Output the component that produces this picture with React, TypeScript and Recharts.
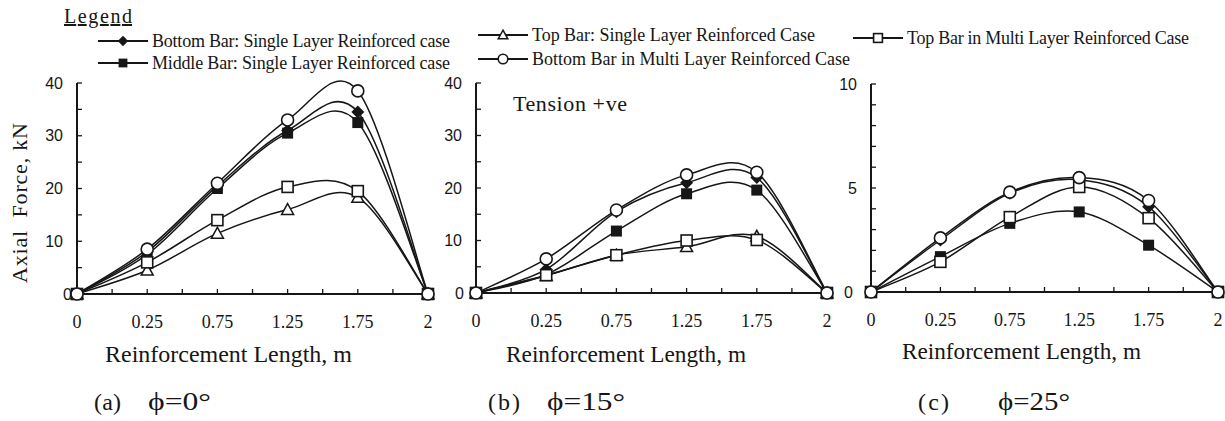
import React from 'react';
import { LineChart, Line, XAxis, YAxis } from 'recharts';

const INK = '#161616';
const SERIF = "'Liberation Serif', 'Times New Roman', serif";
const SANS = "'Liberation Sans', Arial, sans-serif";

// x positions are the measuring stations along the bar, drawn evenly spaced
const xLabels = ['0', '0.25', '0.75', '1.25', '1.75', '2'];

// (a) phi = 0
const aBottomSingle = [0, 8, 20.5, 31, 34.5, 0];
const aMiddleSingle = [0, 7.5, 20, 30.5, 32.5, 0];
const aTopSingle = [0, 4.5, 11.5, 16, 18.3, 0];
const aBottomMulti = [0, 8.5, 21, 33, 38.5, 0];
const aTopMulti = [0, 6, 14, 20.3, 19.5, 0];

// (b) phi = 15
const bBottomSingle = [0, 4.5, 15.5, 21, 22, 0];
const bMiddleSingle = [0, 3.5, 11.8, 18.9, 19.6, 0];
const bTopSingle = [0, 3.3, 7.2, 8.8, 10.8, 0];
const bBottomMulti = [0, 6.5, 15.8, 22.5, 23, 0];
const bTopMulti = [0, 3.4, 7.2, 10, 10.1, 0];

// (c) phi = 25
const cBottomSingle = [0, 2.5, 4.75, 5.4, 4.1, 0];
const cMiddleSingle = [0, 1.7, 3.3, 3.85, 2.25, 0];
const cBottomMulti = [0, 2.6, 4.8, 5.5, 4.4, 0];
const cTopMulti = [0, 1.45, 3.6, 5.05, 3.55, 0];

const SERIES = [
  { key: 'bottomSingle', name: 'Bottom Bar: Single Layer Reinforced case', shape: 'diamond' },
  { key: 'middleSingle', name: 'Middle Bar: Single Layer Reinforced case', shape: 'fsquare' },
  { key: 'topSingle', name: 'Top Bar: Single Layer Reinforced Case', shape: 'triangle' },
  { key: 'topMulti', name: 'Top Bar in Multi Layer Reinforced Case', shape: 'osquare' },
  { key: 'bottomMulti', name: 'Bottom Bar in Multi Layer Reinforced Case', shape: 'circle' },
];

// smooth line through every point (catmull-rom), like the original plotting software
function smoothCurve(context: any) {
  let xs: number[] = [];
  let ys: number[] = [];
  return {
    areaStart() {},
    areaEnd() {},
    lineStart() { xs = []; ys = []; },
    lineEnd() {
      const n = xs.length;
      if (!n) return;
      context.moveTo(xs[0], ys[0]);
      for (let i = 0; i < n - 1; i++) {
        const p = Math.max(i - 1, 0);
        const q = Math.min(i + 2, n - 1);
        context.bezierCurveTo(
          xs[i] + (xs[i + 1] - xs[p]) / 6, ys[i] + (ys[i + 1] - ys[p]) / 6,
          xs[i + 1] - (xs[q] - xs[i]) / 6, ys[i + 1] - (ys[q] - ys[i]) / 6,
          xs[i + 1], ys[i + 1],
        );
      }
    },
    point(x: number, y: number) { xs.push(+x); ys.push(+y); },
  };
}

function Marker({ cx, cy, shape, s = 1 }: any) {
  if (cx == null || cy == null) return null;
  if (shape === 'diamond') {
    const r = 6.5 * s;
    return <polygon points={`${cx},${cy - r} ${cx + r},${cy} ${cx},${cy + r} ${cx - r},${cy}`} fill={INK} />;
  }
  if (shape === 'fsquare') {
    const r = 5.5 * s;
    return <rect x={cx - r} y={cy - r} width={2 * r} height={2 * r} fill={INK} />;
  }
  if (shape === 'triangle') {
    const r = 6 * s;
    return <polygon points={`${cx},${cy - r} ${cx + r},${cy + r * 0.8} ${cx - r},${cy + r * 0.8}`} fill="#fff" stroke={INK} strokeWidth={1.5} />;
  }
  if (shape === 'osquare') {
    const r = 5.5 * s;
    return <rect x={cx - r} y={cy - r} width={2 * r} height={2 * r} fill="#fff" stroke={INK} strokeWidth={1.6} />;
  }
  return <circle cx={cx} cy={cy} r={6 * s} fill="#fff" stroke={INK} strokeWidth={1.6} />;
}

const Y_W = 60;
const X_H = 40;
const H = 421;

function Panel({ plotLeft, plotTop, plotW, plotH, yMax, yStep, yLabelStep, values, zeroGap }: any) {
  const data = xLabels.map((_, i) => {
    const row: any = { x: i };
    SERIES.forEach((s) => {
      if (values[s.key]) row[s.key] = values[s.key][i];
    });
    return row;
  });
  const yTicks: number[] = [];
  for (let v = 0; v <= yMax; v += yStep) yTicks.push(v);
  const xTicks: number[] = [];
  for (let v = 0; v <= 5; v += 0.5) xTicks.push(v);
  const axisY = plotTop + plotH;

  return (
    <div style={{ position: 'absolute', left: plotLeft - Y_W, top: 0 }}>
      <LineChart
        width={Y_W + plotW + 12}
        height={H}
        data={data}
        margin={{ top: plotTop, right: 12, bottom: H - plotTop - plotH - X_H, left: 0 }}
      >
        <XAxis
          type="number"
          dataKey="x"
          domain={[0, 5]}
          ticks={xTicks}
          interval={0}
          height={X_H}
          axisLine={{ stroke: INK, strokeWidth: 2 }}
          tickLine={{ stroke: INK, strokeWidth: 1.3 }}
          tickSize={-5}
          tick={(p: any) => {
            const v = p.payload.value;
            return (
              <text key={`xt${v}`} x={p.payload.coordinate} y={axisY + 34} textAnchor="middle" fontFamily={SERIF} fontSize={18} fill={INK}>
                {Number.isInteger(v) ? xLabels[v] : ''}
              </text>
            );
          }}
        />
        <YAxis
          type="number"
          domain={[0, yMax]}
          ticks={yTicks}
          interval={0}
          width={Y_W}
          axisLine={{ stroke: INK, strokeWidth: 2 }}
          tickLine={{ stroke: INK, strokeWidth: 1.3 }}
          tickSize={-5}
          tick={(p: any) => {
            const v = p.payload.value;
            const show = v % yLabelStep === 0;
            return (
              <text key={`yt${v}`} x={Y_W - (v === 0 ? zeroGap : 14)} y={p.payload.coordinate} dy="0.35em" textAnchor="end" fontFamily={SANS} fontSize={16} fill={INK}>
                {show ? String(v) : ''}
              </text>
            );
          }}
        />
        {SERIES.filter((s) => values[s.key]).map((s) => (
          <Line
            key={s.key}
            dataKey={s.key}
            name={s.name}
            type={smoothCurve as any}
            stroke={INK}
            strokeWidth={1.5}
            isAnimationActive={false}
            activeDot={false}
            dot={(p: any) => <Marker key={`${s.key}${p.index}`} cx={p.cx} cy={p.cy} shape={s.shape} />}
          />
        ))}
      </LineChart>
    </div>
  );
}

const LEGEND_ITEMS = [
  { series: 0, x: 98, y: 41, len: 298 },
  { series: 1, x: 98, y: 63, len: 298 },
  { series: 2, x: 478, y: 35, len: 283 },
  { series: 4, x: 478, y: 59, len: 318 },
  { series: 3, x: 853, y: 38, len: 282 },
];

const CAPTIONS = [
  { tag: '(a)', tagX: 94, tagLen: 27, phi: 'ϕ=0°', phiX: 148, phiLen: 63 },
  { tag: '(b)', tagX: 488, tagLen: 32, phi: 'ϕ=15°', phiX: 547, phiLen: 78 },
  { tag: '(c)', tagX: 918, tagLen: 31, phi: 'ϕ=25°', phiX: 998, phiLen: 72 },
];

const X_TITLES = [
  { x: 105, y: 362, len: 247 },
  { x: 506, y: 362, len: 240 },
  { x: 902, y: 359, len: 239 },
];

function Overlay() {
  return (
    <svg width={1225} height={421} style={{ position: 'absolute', left: 0, top: 0, pointerEvents: 'none' }}>
      <text x={64} y={23} fontFamily={SERIF} fontSize={20} fill={INK} textLength={68} textDecoration="underline">Legend</text>
      {LEGEND_ITEMS.map((it) => {
        const s = SERIES[it.series];
        return (
          <g key={s.key}>
            <line x1={it.x} x2={it.x + 50} y1={it.y} y2={it.y} stroke={INK} strokeWidth={2.2} />
            <Marker cx={it.x + 25} cy={it.y} shape={s.shape} s={0.8} />
            <text x={it.x + 54} y={it.y + 6} fontFamily={SERIF} fontSize={18} fill={INK} textLength={it.len} lengthAdjust="spacing">{s.name}</text>
          </g>
        );
      })}
      <text x={513} y={111} fontFamily={SERIF} fontSize={22} fill={INK} textLength={114}>Tension +ve</text>
      <text transform="translate(27,203) rotate(-90)" textAnchor="middle" fontFamily={SERIF} fontSize={22} fill={INK} textLength={160} style={{ whiteSpace: 'pre' }}>Axial  Force, kN</text>
      {X_TITLES.map((t, i) => (
        <text key={i} x={t.x} y={t.y} fontFamily={SERIF} fontSize={23} fill={INK} textLength={t.len} lengthAdjust="spacingAndGlyphs">Reinforcement Length, m</text>
      ))}
      {CAPTIONS.map((c) => (
        <g key={c.tag}>
          <text x={c.tagX} y={410} fontFamily={SERIF} fontSize={24} fill={INK} textLength={c.tagLen}>{c.tag}</text>
          <text x={c.phiX} y={410} fontFamily={SERIF} fontSize={25} fill={INK} textLength={c.phiLen} lengthAdjust="spacingAndGlyphs">{c.phi}</text>
        </g>
      ))}
    </svg>
  );
}

export default function App() {
  return (
    <div style={{ position: 'absolute', left: 0, top: 0, width: 1225, height: 421, background: '#fff' }}>
      <Panel
        plotLeft={77} plotTop={83} plotW={351} plotH={211}
        yMax={40} yStep={5} yLabelStep={10} zeroGap={5}
        values={{ bottomSingle: aBottomSingle, middleSingle: aMiddleSingle, topSingle: aTopSingle, topMulti: aTopMulti, bottomMulti: aBottomMulti }}
      />
      <Panel
        plotLeft={476} plotTop={83} plotW={351} plotH={210}
        yMax={40} yStep={5} yLabelStep={10} zeroGap={12}
        values={{ bottomSingle: bBottomSingle, middleSingle: bMiddleSingle, topSingle: bTopSingle, topMulti: bTopMulti, bottomMulti: bBottomMulti }}
      />
      <Panel
        plotLeft={871} plotTop={84} plotW={347} plotH={208}
        yMax={10} yStep={1} yLabelStep={5} zeroGap={18}
        values={{ bottomSingle: cBottomSingle, middleSingle: cMiddleSingle, topMulti: cTopMulti, bottomMulti: cBottomMulti }}
      />
      <Overlay />
    </div>
  );
}
